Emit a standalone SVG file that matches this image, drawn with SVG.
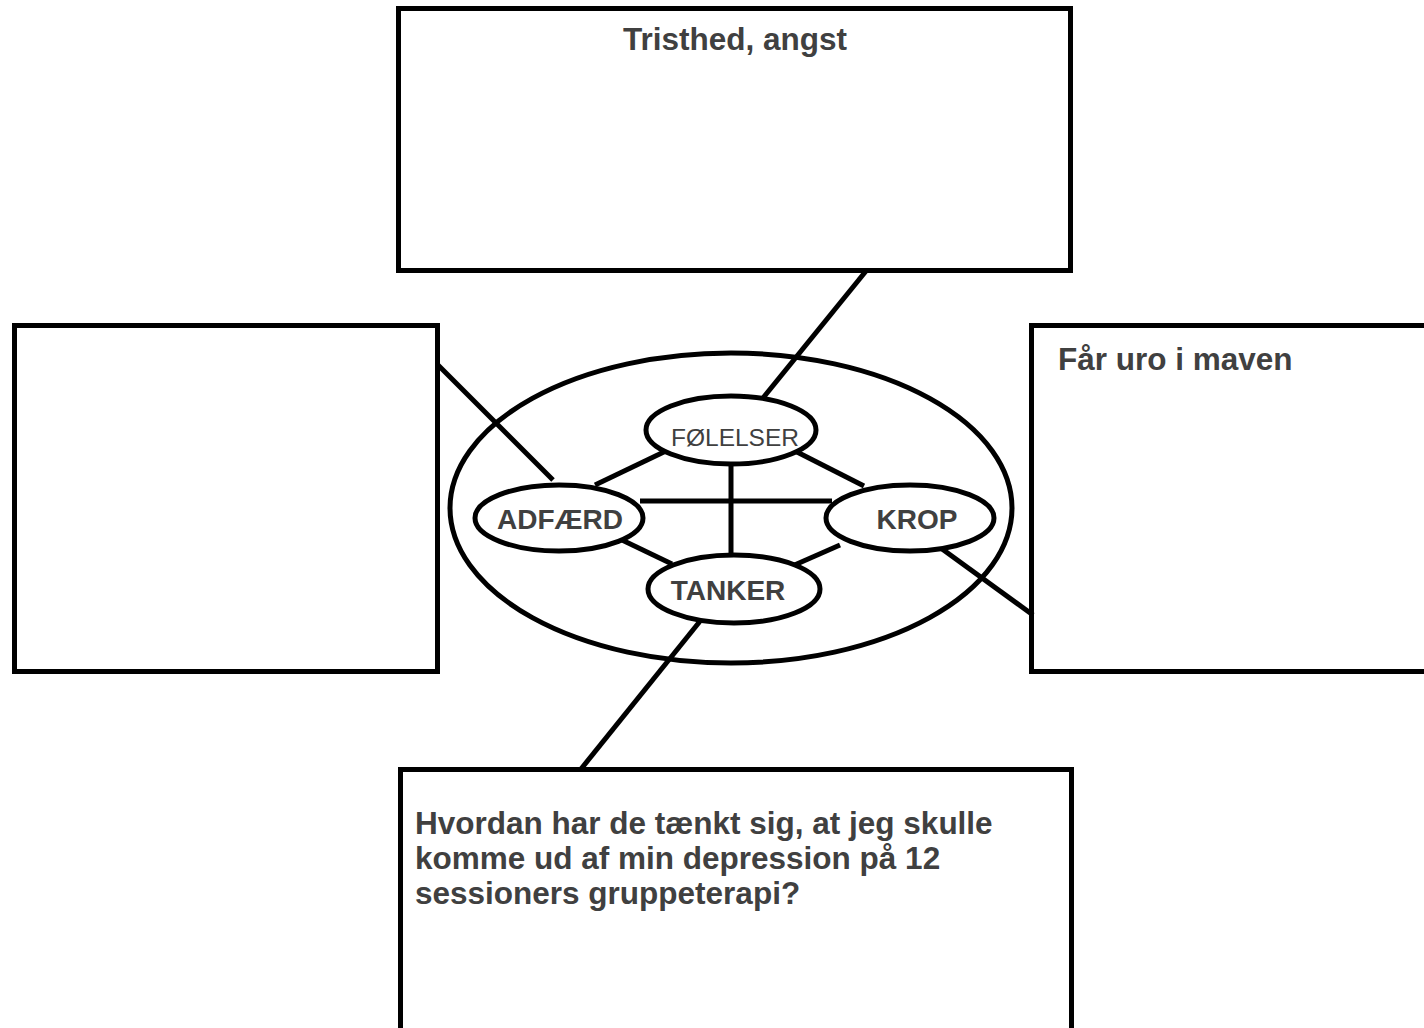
<svg xmlns="http://www.w3.org/2000/svg" width="1424" height="1028" viewBox="0 0 1424 1028">
<style>
.box{fill:#fff;stroke:#000;stroke-width:5}
.ell{fill:#fff;stroke:#000;stroke-width:5}
.big{fill:none;stroke:#000;stroke-width:5}
.con line{stroke:#000;stroke-width:5;stroke-linecap:butt}
.t{font-family:"Liberation Sans",Arial,sans-serif;font-weight:bold;fill:#404040;font-size:31.5px}
.lb{font-family:"Liberation Sans",Arial,sans-serif;font-weight:bold;fill:#404040;font-size:28px;text-anchor:middle}
.lr{font-family:"Liberation Sans",Arial,sans-serif;fill:#404040;font-size:24.5px;text-anchor:middle}
</style>
<rect width="1424" height="1028" fill="#fff"/>
<g id="box-top"><rect class="box" x="398.5" y="8.5" width="672" height="262"/><text class="t" x="735" y="50" text-anchor="middle">Tristhed, angst</text></g>
<g id="box-left"><rect class="box" x="14.5" y="325.5" width="423" height="346"/></g>
<g id="box-right"><rect class="box" x="1031.5" y="325.5" width="400" height="346"/><text class="t" x="1058" y="370">Får uro i maven</text></g>
<g id="box-bottom"><rect class="box" x="400.5" y="769.5" width="671" height="270"/>
<text class="t" x="415" y="834">Hvordan har de tænkt sig, at jeg skulle</text>
<text class="t" x="415" y="869">komme ud af min depression på 12</text>
<text class="t" x="415" y="904">sessioners gruppeterapi?</text></g>
<g id="outer-ellipse"><ellipse class="big" cx="731" cy="508" rx="281" ry="155"/></g>
<g id="connectors" class="con">
<line x1="866" y1="271" x2="763" y2="398"/>
<line x1="438" y1="365" x2="553" y2="480"/>
<line x1="938" y1="546" x2="1033" y2="615"/>
<line x1="705" y1="615" x2="581" y2="769"/>
<line x1="668" y1="450" x2="595" y2="485"/>
<line x1="797" y1="452" x2="864" y2="486"/>
<line x1="622" y1="540" x2="672" y2="564"/>
<line x1="840" y1="545" x2="790" y2="567"/>
<line x1="640" y1="501" x2="832" y2="501"/>
<line x1="731" y1="465" x2="731" y2="560"/>
</g>
<g id="node-folelser"><ellipse class="ell" cx="731" cy="430" rx="85" ry="34"/><text class="lr" x="735" y="446">FØLELSER</text></g>
<g id="node-adfaerd"><ellipse class="ell" cx="559" cy="518" rx="84" ry="33"/><text class="lb" x="560" y="529">ADFÆRD</text></g>
<g id="node-krop"><ellipse class="ell" cx="910" cy="518" rx="84" ry="33"/><text class="lb" x="917" y="529">KROP</text></g>
<g id="node-tanker"><ellipse class="ell" cx="734" cy="589" rx="86" ry="34"/><text class="lb" x="728" y="600">TANKER</text></g>
</svg>
